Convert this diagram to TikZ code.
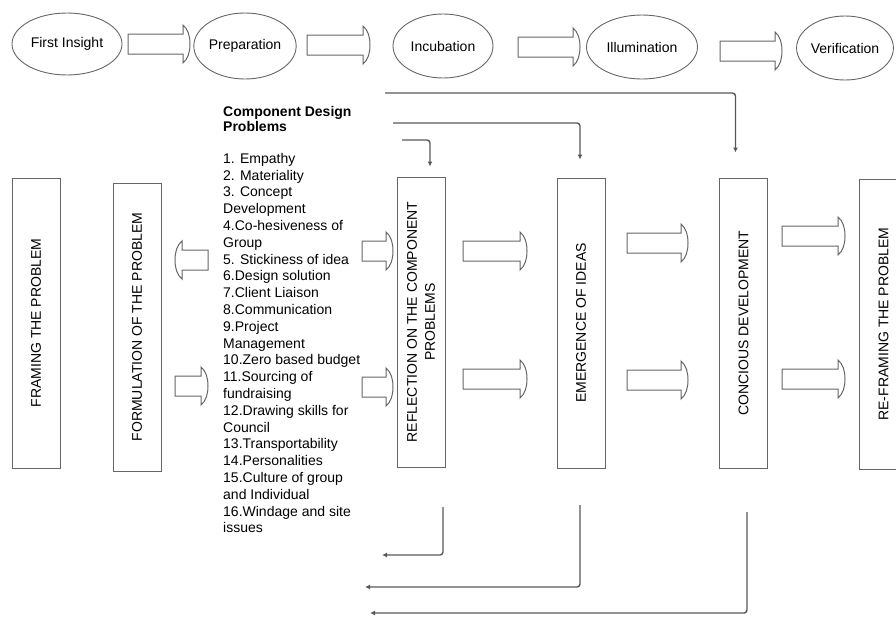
\documentclass[tikz,border=0pt]{standalone}
\usepackage{fontspec}
\setmainfont{Liberation Sans}
\usetikzlibrary{shapes.geometric, arrows.meta}

\tikzset{
  stage/.style={ellipse, draw=black!60, line width=0.9pt, minimum width=100pt, minimum height=64pt, inner sep=0pt, font=\fontsize{14}{16}\selectfont},
  phase/.style={rectangle, draw=black!60, line width=1pt, rotate=90, minimum height=48pt, minimum width=290pt, align=center, font=\fontsize{14}{18}\selectfont},
  link/.style={draw=black!65, line width=1.4pt, rounded corners=3pt, -{Latex[length=5pt,width=5pt]}},
  fat/.style={draw=black!60, line width=1pt, fill=white}
}

\newcommand{\fatarrow}[4][]{%
  \begin{scope}[shift={(#2,#3)},#1]
    \draw[fat] (0,-10) -- (#4-7,-10) -- (#4-7,-19) .. controls (#4-2,-15) and (#4,-8) .. (#4,0) .. controls (#4,8) and (#4-2,15) .. (#4-7,19) -- (#4-7,10) -- (0,10) -- cycle;
  \end{scope}}

\begin{document}
\begin{tikzpicture}[x=1pt,y=-1pt]
    \useasboundingbox (0,0) rectangle (896,616);
    \clip (0,0) rectangle (896,616);

    \node[stage, minimum width=110pt, minimum height=62pt] (insight) at (67,44) {First Insight};
    \node[stage, minimum width=96pt, minimum height=66pt] (prep) at (245,46) {Preparation};
    \node[stage] (incub) at (443,46) {Incubation};
    \node[stage, minimum width=111pt] (illum) at (642,47) {Illumination};
    \node[stage, minimum width=96pt] (verif) at (845,48) {Verification};

    \fatarrow{128}{44}{62}
    \fatarrow{307}{45}{63}
    \fatarrow{518}{47}{62}
    \fatarrow{720}{51}{62}

    \node[phase] (frame) at (36,323) {FRAMING THE PROBLEM};
    \node[phase, minimum width=288pt] (form) at (137,327) {FORMULATION OF THE PROBLEM};
    \node[phase] (refl) at (421,322) {REFLECTION ON THE COMPONENT\\PROBLEMS};
    \node[phase] (emerg) at (581,323) {EMERGENCE OF IDEAS};
    \node[phase] (conc) at (743.5,323) {CONCIOUS DEVELOPMENT};
    \node[phase] (refr) at (883.5,324) {RE-FRAMING THE PROBLEM};

    \node[anchor=north west, align=left, inner sep=0pt, font=\fontsize{14}{15.5}\selectfont\bfseries] (title) at (223,106) {Component Design\\Problems};
    \node[anchor=north west, align=left, inner sep=0pt, font=\fontsize{14}{16.8}\selectfont] (list) at (223,153)
      {1. Empathy\\2. Materiality\\3. Concept\\Development\\4.Co-hesiveness of\\Group\\5. Stickiness of idea\\6.Design solution\\7.Client Liaison\\8.Communication\\9.Project\\Management\\10.Zero based budget\\11.Sourcing of\\fundraising\\12.Drawing skills for\\Council\\13.Transportability\\14.Personalities\\15.Culture of group\\and Individual\\16.Windage and site\\issues};

    \fatarrow[xscale=-1]{208}{260}{33}
    \fatarrow{175}{386}{33}
    \fatarrow{362}{251}{31}
    \fatarrow{362}{387}{31}
    \fatarrow{463}{251}{64}
    \fatarrow{463}{379}{64}
    \fatarrow{627}{243}{61}
    \fatarrow{627}{380}{61}
    \fatarrow{782}{236}{63}
    \fatarrow{782}{379}{63}

    \coordinate (top1) at (385,93);
    \coordinate (top2) at (393,123);
    \coordinate (top3) at (402,140);
    \draw[link] (top1) -| ([xshift=-8pt,yshift=25pt]conc.east);
    \draw[link] (top2) -| ([xshift=-1pt,yshift=18pt]emerg.east);
    \draw[link] (top3) -| ([xshift=9pt,yshift=10pt]refl.east);

    \coordinate (out1) at (443,507);
    \coordinate (out2) at (580,505);
    \coordinate (out3) at (747,512);
    \coordinate (back1) at (382,555);
    \coordinate (back2) at (365,587);
    \coordinate (back3) at (370,613);
    \draw[link] (out1) |- (back1);
    \draw[link] (out2) |- (back2);
    \draw[link] (out3) |- (back3);
\end{tikzpicture}
\end{document}
